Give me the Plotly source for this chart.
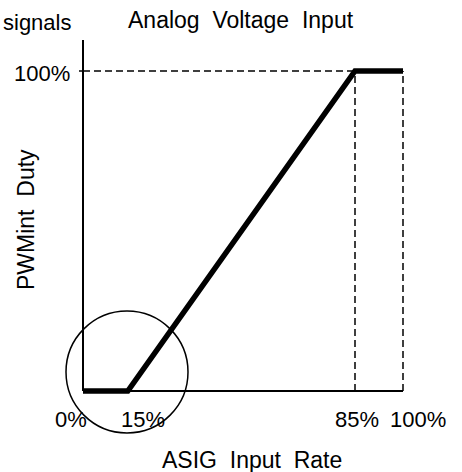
import plotly.graph_objects as go

# ---- data ----
input_rate = [0, 14, 85, 100]          # ASIG input rate (%)
duty = [0, 0, 100, 100]                # PWMint duty (%)
guide_level = 100                      # 100% duty guide
guide_x = [85, 100]                    # vertical guides
x_tick_labels = ["0%", "15%", "85%", "100%"]
y_tick_labels = ["100%"]
y_axis_top = 109.7

W, H = 462, 472
X0PX, Y0PX, SCALE = 83, 391, 3.2       # pixel of origin, px per %

def xr(px):
    return (px - X0PX) / SCALE

def yr(py):
    return (Y0PX - py) / SCALE

FONT = "Liberation Sans, Arial, sans-serif"
fig = go.Figure()

# axis lines
fig.add_trace(go.Scatter(x=[0, 0], y=[0, y_axis_top], mode="lines",
                         line=dict(color="black", width=2), hoverinfo="skip"))
fig.add_trace(go.Scatter(x=[0, input_rate[-1]], y=[0, 0], mode="lines",
                         line=dict(color="black", width=2), hoverinfo="skip"))
# y tick at 100%
fig.add_trace(go.Scatter(x=[xr(X0PX - 4), 0], y=[guide_level, guide_level], mode="lines",
                         line=dict(color="black", width=1.5), hoverinfo="skip"))

# dashed guides
fig.add_trace(go.Scatter(x=[0, guide_x[0]], y=[guide_level, guide_level], mode="lines",
                         line=dict(color="black", width=1.5, dash="7px,4px"), hoverinfo="skip"))
for gx in guide_x:
    fig.add_trace(go.Scatter(x=[gx, gx], y=[0, guide_level], mode="lines",
                             line=dict(color="black", width=1.5, dash="7px,4px"), hoverinfo="skip"))

# main characteristic
fig.add_trace(go.Scatter(x=input_rate, y=duty, mode="lines",
                         line=dict(color="black", width=5.5), hoverinfo="skip"))

# circle highlight around the dead zone
fig.add_shape(type="circle", xref="x", yref="y",
              x0=xr(66), x1=xr(188), y0=yr(433), y1=yr(311),
              line=dict(color="black", width=1.5))

def ann(text, px, py, size=22, xanchor="center", angle=0):
    fig.add_annotation(text=text, x=px / W, y=1 - py / H, xref="paper", yref="paper",
                       showarrow=False, xanchor=xanchor, yanchor="middle",
                       textangle=angle, font=dict(family=FONT, size=size, color="black"))

# tick labels
for lbl, cx in zip(x_tick_labels, [71, 142.5, 357, 418]):
    ann(lbl, cx, 419)
ann(y_tick_labels[0], 41.5, 73)

# titles
ann("Analog&nbsp;&nbsp;Voltage&nbsp;&nbsp;Input", 241, 20, size=23)
ann("ASIG&nbsp;&nbsp;Input&nbsp;&nbsp;Rate", 251.5, 460, size=23)
ann("PWMint&nbsp;&nbsp;Duty", 26, 220, size=23, angle=-90)
ann("signals", 73, 23, size=22, xanchor="right")

fig.update_layout(
    width=W, height=H,
    margin=dict(l=0, r=0, t=0, b=0),
    paper_bgcolor="white", plot_bgcolor="white",
    showlegend=False,
    xaxis=dict(range=[xr(0), xr(W)], visible=False, fixedrange=True),
    yaxis=dict(range=[yr(H), yr(0)], visible=False, fixedrange=True),
)

fig.write_html("out.html", config={"displayModeBar": False},
               post_script="document.body.style.margin='0';document.body.style.overflow='hidden';")
